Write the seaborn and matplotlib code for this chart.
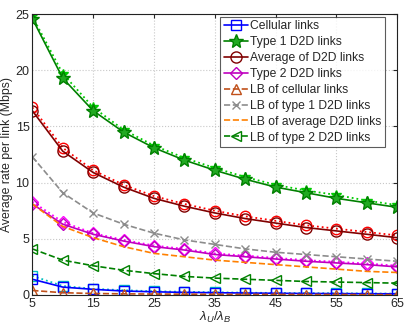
import numpy as np
import pandas as pd
import matplotlib
matplotlib.use("Agg")
import matplotlib.pyplot as plt
import seaborn as sns

# ------------------------------------------------------------
# DATA
# ------------------------------------------------------------

ratio = [5, 10, 15, 20, 25, 30, 35, 40, 45, 50, 55, 60, 65]

cell_ana = [1.4, 0.7, 0.5, 0.35, 0.28, 0.23, 0.2, 0.17, 0.15, 0.13, 0.12, 0.11, 0.1]
cell_sim = [1.7, 0.8, 0.55, 0.42, 0.33, 0.28, 0.24, 0.2, 0.18, 0.16, 0.15, 0.13, 0.12]

type1_ana = [24.6, 19.3, 16.4, 14.5, 13.1, 12.0, 11.1, 10.3, 9.6, 9.1, 8.6, 8.2, 7.8]
type1_sim = [24.8, 19.7, 16.7, 14.7, 13.3, 12.2, 11.3, 10.5, 9.8, 9.3, 8.9, 8.4, 8.0]

avg_ana = [16.4, 12.8, 10.9, 9.6, 8.6, 7.9, 7.3, 6.8, 6.4, 6.0, 5.7, 5.4, 5.1]
avg_sim = [16.7, 13.1, 11.1, 9.8, 8.8, 8.1, 7.5, 7.0, 6.6, 6.2, 5.9, 5.6, 5.3]

type2_ana = [8.1, 6.3, 5.4, 4.8, 4.3, 4.0, 3.6, 3.4, 3.2, 3.0, 2.85, 2.7, 2.5]
type2_sim = [8.3, 6.5, 5.5, 4.9, 4.4, 4.1, 3.7, 3.5, 3.3, 3.1, 2.95, 2.8, 2.6]

lb_cell = [0.4, 0.2, 0.13, 0.1, 0.08, 0.07, 0.06, 0.05, 0.05, 0.04, 0.04, 0.03, 0.03]
lb_type1 = [12.3, 9.1, 7.3, 6.3, 5.5, 4.9, 4.5, 4.1, 3.8, 3.6, 3.4, 3.2, 3.0]
lb_avg = [8.1, 6.1, 5.1, 4.3, 3.7, 3.4, 3.1, 2.9, 2.7, 2.5, 2.3, 2.1, 2.0]
lb_type2 = [4.1, 3.1, 2.6, 2.2, 1.9, 1.65, 1.5, 1.4, 1.3, 1.2, 1.15, 1.1, 1.05]

x_ticks = [5, 15, 25, 35, 45, 55, 65]
y_ticks = [0, 5, 10, 15, 20, 25]

# ------------------------------------------------------------
# STYLE
# ------------------------------------------------------------

sns.set_style("white")
plt.rcParams['font.family'] = ['Liberation Sans', 'DejaVu Sans']
plt.rcParams['mathtext.fontset'] = 'custom'
plt.rcParams['mathtext.it'] = 'Liberation Sans:italic'
plt.rcParams['mathtext.rm'] = 'Liberation Sans'

fig = plt.figure(figsize=(4.09, 3.27), dpi=100)
ax = fig.add_axes([0.079, 0.098, 0.892, 0.859])

# ------------------------------------------------------------
# SIMULATION CURVES (dotted, not in legend)
# ------------------------------------------------------------

sims = [
    (cell_sim, '#00bfbf', 's', 'none'),
    (type1_sim, '#00cc00', '*', '#00cc00'),
    (avg_sim, '#ff0000', 'o', 'none'),
    (type2_sim, '#ff00ff', 'D', 'none'),
]

for vals, col, mk, fc in sims:
    sns.lineplot(
        x=ratio, y=vals, ax=ax,
        color=col, linestyle=':', linewidth=1.3,
        marker=mk, markersize=7.5 if mk != 'D' else 6,
        markerfacecolor=fc, markeredgecolor=col, markeredgewidth=1.0,
        legend=False
    )

# ------------------------------------------------------------
# ANALYTICAL + LOWER BOUND CURVES (in legend)
# ------------------------------------------------------------

mains = [
    (cell_ana, 'Cellular links', '#0000ff', '-', 's', 'none', 6.5),
    (type1_ana, 'Type 1 D2D links', '#008000', '-', '*', '#22aa22', 10),
    (avg_ana, 'Average of D2D links', '#800000', '-', 'o', 'none', 8),
    (type2_ana, 'Type 2 D2D links', '#bf00bf', '-', 'D', 'none', 6.5),
    (lb_cell, 'LB of cellular links', '#c0501a', '--', '^', 'none', 7),
    (lb_type1, 'LB of type 1 D2D links', '#8c8c8c', '--', 'x', 'none', 6),
    (lb_avg, 'LB of average D2D links', '#ff8000', '--', None, 'none', 6),
    (lb_type2, 'LB of type 2 D2D links', '#008000', '--', '<', 'none', 7),
]

handles = []
for vals, lab, col, ls, mk, fc, ms in mains:
    sns.lineplot(
        x=ratio, y=vals, ax=ax,
        color=col, linestyle=ls, linewidth=1.2,
        marker=mk, markersize=ms,
        markerfacecolor=fc, markeredgecolor=col, markeredgewidth=1.0,
        legend=False
    )
    line = ax.lines[-1]
    line.set_label(lab)
    handles.append(line)

# ------------------------------------------------------------
# AXES
# ------------------------------------------------------------

ax.set_xlim(5, 65)
ax.set_ylim(0, 25)
ax.set_xticks(x_ticks)
ax.set_yticks(y_ticks)
ax.tick_params(direction='in', labelsize=9, length=3, top=True, right=True,
               pad=2)
ax.grid(True, linestyle=':', color='#c8c8c8', linewidth=0.8)

for sp in ax.spines.values():
    sp.set_color('#222222')
    sp.set_linewidth(0.8)

ax.set_xlabel(r"$\lambda_U/\lambda_B$", fontsize=9.5, labelpad=0)
ax.set_ylabel("Average rate per link (Mbps)", fontsize=8.8, labelpad=2)

leg = ax.legend(
    handles=handles,
    loc='upper right',
    bbox_to_anchor=(0.967, 0.99),
    fontsize=8.7,
    frameon=True,
    fancybox=False,
    edgecolor='#333333',
    borderpad=0.3,
    labelspacing=0.32,
    handlelength=2.0,
    handletextpad=0.15,
    borderaxespad=0.0
)
leg.get_frame().set_linewidth(0.8)

fig.savefig("out.png", dpi=100)
